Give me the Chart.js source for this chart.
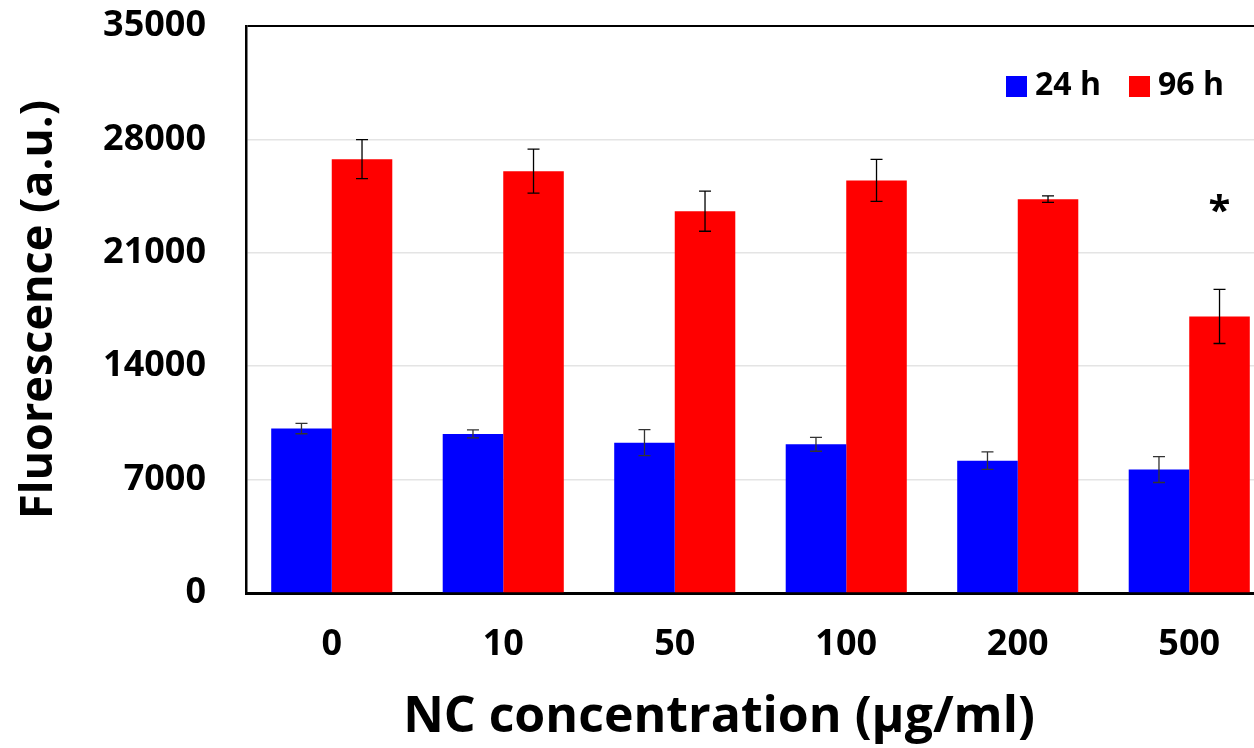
<!DOCTYPE html>
<html>
<head>
<meta charset="utf-8">
<script src="https://cdn.jsdelivr.net/npm/chart.js@4"></script>
<style>
  html, body { margin: 0; padding: 0; background: #fff; overflow: hidden; }
  #wrap { position: relative; width: 1280px; height: 748px; }
</style>
</head>
<body>
<div id="wrap"><canvas id="chart"></canvas></div>
<script>
// Data
const concentrations = ['0', '10', '50', '100', '200', '500'];
const yTicks = [0, 7000, 14000, 21000, 28000, 35000];
const seriesNames = ['24 h', '96 h'];
const values24h = [10150, 9820, 9280, 9180, 8170, 7620];
const errors24h = [320, 250, 800, 430, 540, 800];
const values96h = [26780, 26040, 23570, 25470, 24310, 17070];
const errors96h = [1200, 1360, 1240, 1300, 200, 1670];
const marks96h = ['', '', '', '', '', '*'];
const markLevel = 24000;
const xTitle = 'NC concentration (µg/ml)';

const FONT = '"Open Sans", "Liberation Sans", sans-serif';

// error bars + significance star, drawn through the chart scales
const errorBars = {
  id: 'errorBars',
  afterDatasetsDraw(chart) {
    const ctx = chart.ctx;
    const y = chart.scales.y;
    const errs = [errors24h, errors96h];
    ctx.save();
    chart.data.datasets.forEach((ds, di) => {
      const meta = chart.getDatasetMeta(di);
      meta.data.forEach((bar, i) => {
        const v = ds.data[i];
        const e = errs[di][i];
        const yTop = y.getPixelForValue(v + e);
        const yBot = y.getPixelForValue(v - e);
        ctx.strokeStyle = di === 0 ? '#333' : '#000';
        ctx.lineWidth = 1.3;
        ctx.beginPath();
        ctx.moveTo(bar.x, yTop); ctx.lineTo(bar.x, yBot);
        ctx.moveTo(bar.x - 6, yTop); ctx.lineTo(bar.x + 6, yTop);
        ctx.moveTo(bar.x - 6, yBot); ctx.lineTo(bar.x + 6, yBot);
        ctx.stroke();
      });
    });
    // star
    const meta96 = chart.getDatasetMeta(1);
    ctx.fillStyle = '#000';
    ctx.font = 'bold 40px ' + FONT;
    ctx.textAlign = 'center';
    ctx.textBaseline = 'middle';
    marks96h.forEach((m, i) => {
      if (m) ctx.fillText(m, meta96.data[i].x, y.getPixelForValue(markLevel) + 8);
    });
    ctx.restore();
  }
};

// legend in the upper right of the plot, x title under the visible part
const extras = {
  id: 'extras',
  afterDraw(chart) {
    const ctx = chart.ctx;
    ctx.save();
    ctx.font = 'bold 32px ' + FONT;
    ctx.textBaseline = 'middle';
    ctx.textAlign = 'left';
    const xs = [1006, 1129];
    chart.data.datasets.forEach((ds, i) => {
      ctx.fillStyle = ds.backgroundColor;
      ctx.fillRect(xs[i], 76, 21, 21);
      ctx.fillStyle = '#000';
      ctx.fillText(ds.label, xs[i] + 29, 86);
    });
    ctx.font = 'bold 50px ' + FONT;
    ctx.textAlign = 'center';
    ctx.fillText(xTitle, 719, 718);
    ctx.restore();
  }
};

new Chart(document.getElementById('chart'), {
  type: 'bar',
  data: {
    labels: concentrations,
    datasets: [
      { label: seriesNames[0], data: values24h, backgroundColor: '#0000ff' },
      { label: seriesNames[1], data: values96h, backgroundColor: '#ff0000' }
    ]
  },
  options: {
    responsive: true,
    maintainAspectRatio: false,
    animation: false,
    layout: { padding: { top: 26, right: 5, left: 0, bottom: 0 } },
    datasets: { bar: { barPercentage: 1, categoryPercentage: 0.706 } },
    plugins: { legend: { display: false }, tooltip: { enabled: false } },
    scales: {
      x: {
        grid: { display: false, drawTicks: false },
        border: { color: '#000', width: 3 },
        ticks: { color: '#000', padding: 30, font: { family: FONT, size: 36, weight: 'bold' } },
        afterFit(s) { s.height = 155; s.paddingLeft = 0; s.paddingRight = 0; }
      },
      y: {
        min: 0, max: 35000,
        afterBuildTicks(s) { s.ticks = yTicks.map(v => ({ value: v })); },
        grid: {
          drawTicks: false,
          color: c => c.tick && c.tick.value === 35000 ? '#000' : '#e4e4e4',
          lineWidth: c => c.tick && c.tick.value === 35000 ? 2 : 1.5
        },
        border: { color: '#000', width: 2.5 },
        ticks: {
          color: '#000', padding: 40,
          font: { family: FONT, size: 36, weight: 'bold' },
          callback: v => String(v)
        },
        title: {
          display: true, text: 'Fluorescence (a.u.)', color: '#000',
          font: { family: FONT, size: 45, weight: 'bold' }, padding: { top: 12, bottom: 0 }
        },
        afterFit(s) { s.width = 246; s.paddingTop = 0; s.paddingBottom = 0; }
      }
    }
  },
  plugins: [errorBars, extras]
});
</script>
</body>
</html>
